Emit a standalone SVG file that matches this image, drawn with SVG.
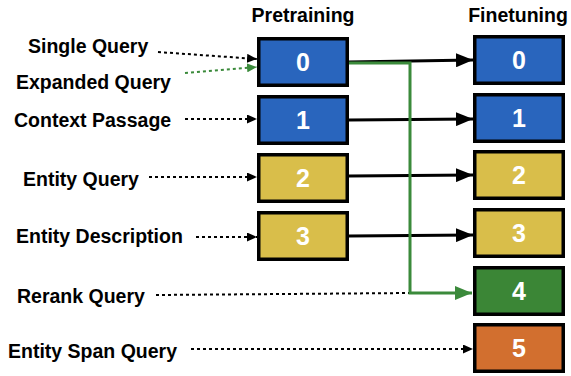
<svg xmlns="http://www.w3.org/2000/svg" width="571" height="376" viewBox="0 0 571 376">
<style>
.lbl{font-family:"Liberation Sans",Arial,sans-serif;font-weight:bold;font-size:19.5px;fill:#000}
.hdr{font-family:"Liberation Sans",Arial,sans-serif;font-weight:bold;font-size:19.5px;fill:#000;text-anchor:middle}
.num{font-family:"Liberation Sans",Arial,sans-serif;font-weight:bold;font-size:25px;fill:#fff;text-anchor:middle}
.box{stroke:#000;stroke-width:3.5}
.blue{fill:#2965BD}.yellow{fill:#D9BE4A}.green{fill:#3B8636}.orange{fill:#D26F2F}
.dot{fill:none;stroke:#000;stroke-width:2;stroke-dasharray:3 3}
.gdot{fill:none;stroke:#3B8A3B;stroke-width:2;stroke-dasharray:3 3}
.solid{fill:none;stroke:#000;stroke-width:3}
.gsolid{fill:none;stroke:#3B8A3B;stroke-width:3}
</style>
<defs>
<marker id="ab" markerUnits="userSpaceOnUse" markerWidth="17" markerHeight="14" refX="17" refY="7" orient="auto"><path d="M0,0 L17,7 L0,14 z" fill="#000"/></marker>
<marker id="ag" markerUnits="userSpaceOnUse" markerWidth="17" markerHeight="14" refX="17" refY="7" orient="auto"><path d="M0,0 L17,7 L0,14 z" fill="#3B8A3B"/></marker>
<marker id="db" markerUnits="userSpaceOnUse" markerWidth="10" markerHeight="9" refX="10" refY="4.5" orient="auto"><path d="M0,0 L10,4.5 L0,9 z" fill="#000"/></marker>
<marker id="dg" markerUnits="userSpaceOnUse" markerWidth="10" markerHeight="9" refX="10" refY="4.5" orient="auto"><path d="M0,0 L10,4.5 L0,9 z" fill="#3B8A3B"/></marker>
</defs>
<text class="hdr" x="303" y="22">Pretraining</text>
<text class="hdr" x="518" y="22">Finetuning</text>
<g id="labels">
<text class="lbl" x="28" y="53">Single Query</text>
<text class="lbl" x="16" y="89">Expanded Query</text>
<text class="lbl" x="14" y="127">Context Passage</text>
<text class="lbl" x="23" y="186">Entity Query</text>
<text class="lbl" x="16" y="243">Entity Description</text>
<text class="lbl" x="17" y="303">Rerank Query</text>
<text class="lbl" x="8" y="358">Entity Span Query</text>
</g>
<g id="connectors">
<line class="dot" x1="158" y1="52" x2="257" y2="59" marker-end="url(#db)"/>
<line class="gdot" x1="185" y1="73" x2="257" y2="67" marker-end="url(#dg)"/>
<line class="dot" x1="185" y1="119" x2="257" y2="119" marker-end="url(#db)"/>
<line class="dot" x1="149" y1="177" x2="257" y2="177" marker-end="url(#db)"/>
<line class="dot" x1="196" y1="237" x2="257" y2="237" marker-end="url(#db)"/>
<line class="dot" x1="156" y1="295" x2="410" y2="293"/>
<line class="dot" x1="191" y1="349" x2="473" y2="349" marker-end="url(#db)"/>
<line class="solid" x1="349" y1="62" x2="473" y2="60" marker-end="url(#ab)"/>
<line class="solid" x1="349" y1="120" x2="473" y2="119" marker-end="url(#ab)"/>
<line class="solid" x1="349" y1="176" x2="473" y2="175" marker-end="url(#ab)"/>
<line class="solid" x1="349" y1="236" x2="473" y2="235" marker-end="url(#ab)"/>
<path class="gsolid" d="M349,63 H410 V293 H472" marker-end="url(#ag)"/>
</g>
<g id="p0"><rect class="box blue" x="258.75" y="38.75" width="88.5" height="46.5"/><text class="num" x="303" y="71">0</text></g>
<g id="p1"><rect class="box blue" x="258.75" y="96.75" width="88.5" height="46.5"/><text class="num" x="303" y="129">1</text></g>
<g id="p2"><rect class="box yellow" x="258.75" y="154.75" width="88.5" height="46.5"/><text class="num" x="303" y="187">2</text></g>
<g id="p3"><rect class="box yellow" x="258.75" y="212.75" width="88.5" height="46.5"/><text class="num" x="303" y="245">3</text></g>
<g id="f0"><rect class="box blue" x="474.75" y="36.75" width="88.5" height="46.5"/><text class="num" x="519" y="69">0</text></g>
<g id="f1"><rect class="box blue" x="474.75" y="94.75" width="88.5" height="46.5"/><text class="num" x="519" y="127">1</text></g>
<g id="f2"><rect class="box yellow" x="474.75" y="151.75" width="88.5" height="46.5"/><text class="num" x="519" y="184">2</text></g>
<g id="f3"><rect class="box yellow" x="474.75" y="209.75" width="88.5" height="46.5"/><text class="num" x="519" y="242">3</text></g>
<g id="f4"><rect class="box green" x="474.75" y="267.75" width="88.5" height="46.5"/><text class="num" x="519" y="300">4</text></g>
<g id="f5"><rect class="box orange" x="474.75" y="324.75" width="88.5" height="46.5"/><text class="num" x="519" y="357">5</text></g>
</svg>
